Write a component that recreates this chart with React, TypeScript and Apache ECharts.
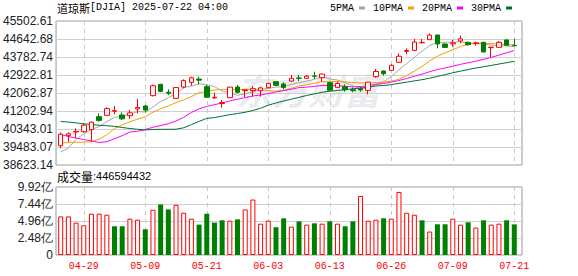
import React, { useEffect, useRef } from 'react';
import * as echarts from 'echarts';

// ---- data ----
const dates = ['04-24','04-25','04-28','04-29','04-30','05-01','05-02','05-05','05-06','05-07','05-08','05-09','05-12','05-13','05-14','05-15','05-16','05-19','05-20','05-21','05-22','05-23','05-27','05-28','05-29','05-30','06-02','06-03','06-04','06-05','06-06','06-09','06-10','06-11','06-12','06-13','06-16','06-17','06-18','06-20','06-23','06-24','06-25','06-26','06-27','06-30','07-01','07-02','07-03','07-07','07-08','07-09','07-10','07-11','07-14','07-15','07-16','07-17','07-18','07-21'];

const opens = [39546,40024,40200,40215,40311,40932,40996,41190,41012,40980,41300,41442,41935,42477,42100,41808,42350,42572,42730,42365,41830,41560,41840,42349,42180,42180,42174,42317,42604,42493,42636,42780,42763,42880,42795,42556,42333,42365,42220,42260,42190,42843,43114,43146,43528,44050,44101,44460,44611,44834,44404,44410,44547,44483,44420,44483,44230,44245,44595,44340];
const closes = [40093.40,40113.50,40227.59,40527.62,40669.36,40752.96,41317.43,41218.83,40829.00,41113.97,41368.45,41249.38,42410.10,42140.43,42051.06,42322.75,42654.74,42792.07,42677.24,41860.44,41859.09,41603.07,42343.65,42098.70,42215.73,42270.07,42305.48,42519.64,42427.74,42319.74,42762.87,42761.76,42866.87,42865.77,42967.62,42197.79,42515.09,42215.80,42171.66,42206.82,42581.78,43089.02,42982.43,43386.84,43819.27,44094.77,44494.94,44484.42,44828.53,44406.36,44240.76,44458.30,44650.64,44371.51,44459.65,44023.29,44254.78,44484.49,44342.19,44323.07];
const lows = [39420,39738,39929,40170,39750,40693,40990,41044,40773,40820,41091,41139,41900,42100,41967,41780,42286,42413,42477,41840,41776,41362,41820,42047,41860,41887,41887,42300,42410,42238,42604,42636,42740,42732,42604,42127,42320,42127,42095,42127,42000,42795,42891,43140,43520,43910,44090,44436,44600,44197,44229,44276,44436,44324,44324,44010,43783,44240,44330,44320];
const highs = [40180,40180,40375,40614,40700,41091,41378,41442,41139,41250,41776,41490,42470,42500,42238,42340,42715,42843,42843,42445,42079,41728,42360,42445,42238,42397,42330,42560,42636,42572,42923,42923,42923,43082,42986,42604,42604,42477,42333,42365,42590,43209,43130,43432,43958,44197,44643,44643,44913,44840,44436,44595,44802,44515,44515,44515,44265,44547,44627,44643];
// closes of the 29 sessions before 04-24 (used for the moving averages)
const priorCloses = [40813.57,41488.19,41841.63,41581.31,41964.63,41953.32,41985.35,42583.32,42587.50,42454.79,42299.70,41583.90,42001.76,41989.96,42225.32,40545.93,38314.86,37965.60,37645.59,40608.45,39593.66,40212.71,40524.79,40368.96,39669.39,39142.23,38170.41,39186.98,39606.57];
const volumes = [563000000,563000000,472000000,433000000,602000000,602000000,588000000,419000000,419000000,530000000,515000000,376000000,660000000,737000000,665000000,732000000,616000000,530000000,443000000,602000000,472000000,506000000,501000000,520000000,665000000,809000000,457000000,501000000,405000000,535000000,414000000,491000000,443000000,462000000,457000000,491000000,457000000,419000000,491000000,862000000,501000000,515000000,535000000,530000000,920000000,616000000,588000000,506000000,342000000,448000000,448000000,530000000,443000000,477000000,400000000,506000000,443000000,457000000,506000000,446594432];
const priceTicks = ['38623.14','39483.07','40343.01','41202.94','42062.87','42922.81','43782.74','44642.68','45502.61'];
const volTicksYi = [0, 2.48, 4.96, 7.44, 9.92];
const maPeriods = [5, 10, 20, 30];
const maNames = ['5PMA', '10PMA', '20PMA', '30PMA'];
const titleName = '道琼斯';
const titleCode = '[DJIA] 2025-07-22 04:00';

const SANS = '"Liberation Sans", Arial, sans-serif';
const MONO = '"Liberation Mono", "DejaVu Sans Mono", monospace';
const CJK = '"Noto Sans CJK SC", sans-serif';
const maColors = ['#a6a6a6', '#f0a000', '#ff00ff', '#007030'];

function movingAverage(n: number): number[] {
  const all = priorCloses.concat(closes);
  const off = priorCloses.length;
  return closes.map((_, i) => {
    let s = 0;
    for (let k = 0; k < n; k++) s += all[off + i - k];
    return +(s / n).toFixed(2);
  });
}

const labelInterval = (index: number) => (index - 3) % 8 === 0;

export default function App() {
  const ref = useRef<HTMLDivElement>(null);
  useEffect(() => {
    const chart = echarts.init(ref.current!, null, { renderer: 'svg' });
    const priceMin = Number(priceTicks[0]);
    const priceMax = Number(priceTicks[priceTicks.length - 1]);
    const volMax = volTicksYi[volTicksYi.length - 1] * 1e8;
    const volStep = volTicksYi[1] * 1e8;
    const volData = volumes.map((v, i) => {
      const prev = i === 0 ? priorCloses[priorCloses.length - 1] : closes[i - 1];
      const up = closes[i] >= prev;
      return {
        value: v,
        itemStyle: up
          ? { color: '#ffffff', borderColor: '#ff0000', borderWidth: 1 }
          : { color: '#008000', borderColor: '#008000', borderWidth: 0 },
      };
    });
    const option: any = {
      animation: false,
      backgroundColor: '#ffffff',
      textStyle: { fontFamily: SANS },
      legend: {
        data: maNames,
        right: 66,
        top: 3,
        padding: 0,
        icon: 'rect',
        itemWidth: 6,
        itemHeight: 3,
        itemGap: 8,
        align: 'right',
        textStyle: { fontFamily: MONO, fontSize: 10, color: '#000' },
      },
      graphic: [
        {
          type: 'text', left: 236, top: 71, silent: true, z: 0,
          style: { text: '东方财富', font: 'italic bold 36px "Noto Sans CJK SC"', fill: 'rgba(190,190,205,0.33)' },
        },
        {
          type: 'text', left: 57, top: 2,
          style: {
            text: '{a|' + titleName + '}{b|' + titleCode + '}',
            rich: {
              a: { fontFamily: CJK, fontSize: 11, fill: '#000' },
              b: { fontFamily: MONO, fontSize: 10, fill: '#000' },
            },
          },
        },
        {
          type: 'text', left: 57, top: 170,
          style: {
            text: '{a|成交量}{b|:' + volumes[volumes.length - 1] + '}',
            rich: {
              a: { fontFamily: CJK, fontSize: 12, fill: '#000' },
              b: { fontFamily: SANS, fontSize: 11, fill: '#000' },
            },
          },
        },
      ],
      grid: [
        { left: 56, right: 56, top: 21, height: 144, show: true, borderColor: '#999', borderWidth: 1 },
        { left: 60.7, right: 63.7, top: 21, height: 144 },
        { left: 56, right: 56, top: 187, height: 68, show: true, borderColor: '#999', borderWidth: 1 },
        { left: 60.7, right: 63.7, top: 187, height: 68 },
      ],
      xAxis: [
        { type: 'value', gridIndex: 0, min: 0, max: 1, show: false },
        {
          type: 'category', gridIndex: 1, data: dates, boundaryGap: false,
          axisLine: { show: false }, axisTick: { show: false }, axisLabel: { show: false },
          splitLine: { show: true, interval: labelInterval, lineStyle: { color: '#c8c8c8', type: [4, 4] } },
        },
        { type: 'value', gridIndex: 2, min: 0, max: 1, show: false },
        {
          type: 'category', gridIndex: 3, data: dates, boundaryGap: false,
          axisLine: { show: false }, axisTick: { show: false },
          axisLabel: { interval: labelInterval, color: '#ff0000', fontFamily: MONO, fontSize: 10, margin: 6 },
          splitLine: { show: true, interval: labelInterval, lineStyle: { color: '#c8c8c8', type: [4, 4] } },
        },
      ],
      yAxis: [
        {
          type: 'category', gridIndex: 0, data: priceTicks, boundaryGap: false,
          axisLine: { show: false }, axisTick: { show: false },
          axisLabel: { interval: 0, color: '#222', fontSize: 12, fontFamily: SANS, margin: 3 },
          splitLine: { show: true, interval: 0, lineStyle: { color: '#d0d0d0' } },
        },
        { type: 'value', gridIndex: 1, min: priceMin, max: priceMax, show: false },
        {
          type: 'value', gridIndex: 2, min: 0, max: volMax, interval: volStep,
          axisLine: { show: false }, axisTick: { show: false },
          axisLabel: {
            color: '#222', fontSize: 12, fontFamily: SANS, margin: 3,
            formatter: (v: number) => (v === 0 ? '0' : (v / 1e8).toFixed(2) + '亿'),
          },
          splitLine: { show: true, lineStyle: { color: '#d0d0d0' } },
        },
        { type: 'value', gridIndex: 3, min: 0, max: volMax, show: false },
      ],
      series: [
        ...maPeriods.map((n, k) => ({
          name: maNames[k],
          type: 'line',
          xAxisIndex: 1,
          yAxisIndex: 1,
          data: movingAverage(n),
          showSymbol: false,
          symbol: 'none',
          lineStyle: { width: 1, color: maColors[k] },
          itemStyle: { color: maColors[k] },
          z: 2,
        })),
        {
          type: 'candlestick',
          xAxisIndex: 1,
          yAxisIndex: 1,
          data: dates.map((_, i) => [opens[i], closes[i], lows[i], highs[i]]),
          barWidth: 5,
          clip: false,
          itemStyle: {
            color: '#ffffff',
            color0: '#008000',
            borderColor: '#ff0000',
            borderColor0: '#008000',
            borderWidth: 1,
          },
          z: 3,
        },
        {
          type: 'bar',
          xAxisIndex: 3,
          yAxisIndex: 3,
          data: volData,
          barWidth: 5,
          clip: false,
        },
      ],
    };
    chart.setOption(option);
    return () => chart.dispose();
  }, []);
  return <div ref={ref} style={{ position: 'fixed', left: 0, top: 0, width: 578, height: 276 }} />;
}
